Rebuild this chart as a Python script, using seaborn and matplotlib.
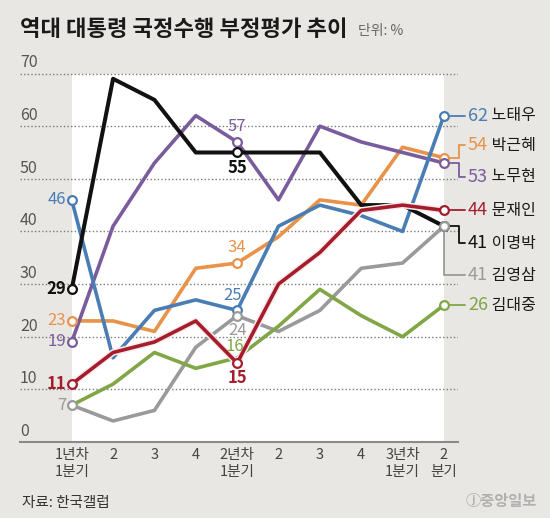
import matplotlib
matplotlib.use("Agg")
import matplotlib.pyplot as plt
import matplotlib.patheffects as pe
import seaborn as sns
import pandas as pd

# ---------------- data ----------------
quarters = ["1년차\n1분기", "2", "3", "4", "2년차\n1분기", "2", "3", "4", "3년차\n1분기", "2\n분기"]
presidents = ["노태우", "박근혜", "노무현", "문재인", "이명박", "김영삼", "김대중"]
roh_taewoo = [46, 16, 25, 27, 25, 41, 45, 43, 40, 62]
park_geunhye = [23, 23, 21, 33, 34, 39, 46, 45, 56, 54]
roh_moohyun = [19, 41, 53, 62, 57, 46, 60, 57, 55, 53]
moon_jaein = [11, 17, 19, 23, 15, 30, 36, 44, 45, 44]
lee_myungbak = [29, 69, 65, 55, 55, 55, 55, 45, 45, 41]
kim_youngsam = [7, 4, 6, 18, 24, 21, 25, 33, 34, 41]
kim_daejung = [7, 11, 17, 14, 16, 22, 29, 24, 20, 26]
y_ticks = [0, 10, 20, 30, 40, 50, 60, 70]

series = {
    "노태우": roh_taewoo, "박근혜": park_geunhye, "노무현": roh_moohyun,
    "문재인": moon_jaein, "이명박": lee_myungbak, "김영삼": kim_youngsam,
    "김대중": kim_daejung,
}
rows = []
for p in presidents:
    for i, v in enumerate(series[p]):
        rows.append({"pres": p, "pos": i, "val": v})
df = pd.DataFrame(rows)

# ---------------- style ----------------
colors = {"노태우": "#4a7db3", "박근혜": "#e8924a", "노무현": "#7a5c9c",
          "문재인": "#a51d2d", "이명박": "#111111", "김영삼": "#9a9a9a",
          "김대중": "#80a646"}
zorders = {"김영삼": 3, "김대중": 3.1, "박근혜": 3.2, "노무현": 3.3,
           "노태우": 3.4, "이명박": 3.5, "문재인": 3.6}
BG = "#e8e7e3"

sns.set_style("white")
plt.rcParams["font.family"] = ["Noto Sans CJK KR", "DejaVu Sans"]

fig = plt.figure(figsize=(5.5, 5.18), dpi=100, facecolor=BG)
ax = fig.add_axes([20 / 550, (518 - 442) / 518, 438 / 550, (442 - 63) / 518])
ax.set_facecolor(BG)

ax.set_xlim(-1.25, 9.34)
ax.set_ylim(0, 72)

# white plot band
ax.axvspan(0, len(quarters) - 1, ymin=0, ymax=70 / 72, color="white", zorder=0, lw=0)

# grid
ax.set_yticks(y_ticks)
ax.set_yticklabels([])
ax.tick_params(axis="y", length=0)
ax.yaxis.grid(True, linestyle=(0, (1, 1.6)), color="#7a7a7a", lw=1.0, zorder=0.5)
ax.set_axisbelow(True)
for s in ["top", "right", "left"]:
    ax.spines[s].set_visible(False)
ax.spines["bottom"].set_color("#8a8a8a")
ax.spines["bottom"].set_linewidth(1.5)
ax.spines["bottom"].set_zorder(2)

ax.set_xticks(range(len(quarters)))
ax.set_xticklabels(quarters, fontsize=10.5, color="#444444", linespacing=1.35)
ax.tick_params(axis="x", direction="in", length=8, width=1.2, color="#8a8a8a", pad=4)

for t in y_ticks:
    ax.text(-1.25, t + 0.4, str(t), ha="left", va="bottom", fontsize=11.5,
            color="#555555", zorder=1)

# lines
for p in presidents:
    sub = df[df["pres"] == p]
    lw = 2.9 if p == "이명박" else 2.6
    sns.lineplot(data=sub, x="pos", y="val", color=colors[p], lw=lw, ax=ax,
                 zorder=zorders[p], legend=False)
    line = ax.lines[-1]
    if p == "문재인":
        line.set_path_effects([pe.Stroke(linewidth=lw + 2.2, foreground="#fbecec"), pe.Normal()])
ax.set_xlabel("")
ax.set_ylabel("")

# markers
marker_idx = {"노태우": [0, 4, 9], "박근혜": [0, 4, 9], "노무현": [0, 4, 9],
              "문재인": [0, 4, 9], "이명박": [0, 4, 9], "김영삼": [0, 4, 9],
              "김대중": [9]}
for p in presidents:
    vals = series[p]
    idx = marker_idx[p]
    ax.plot(idx, [vals[i] for i in idx], ls="none", marker="o", ms=6.3,
            mfc="white", mec=colors[p], mew=1.6, zorder=5)

# left labels
left_labels = ["노태우", "이명박", "박근혜", "노무현", "문재인", "김영삼"]
for p in left_labels:
    bold = p in ("이명박", "문재인")
    ax.text(-0.14, series[p][0], str(series[p][0]), ha="right", va="center",
            fontsize=12, color=colors[p], fontweight="bold" if bold else "normal",
            zorder=6)

# labels at 2년차 1분기
mid = {"노무현": (0, 11), "박근혜": (0, 11), "노태우": (-3, 11), "김대중": (-2, 8),
       "이명박": (0, -11.5), "김영삼": (0, -11), "문재인": (0, -11)}
for p, (dx, dy) in mid.items():
    bold = p in ("이명박", "문재인")
    ax.annotate(str(series[p][4]), (4, series[p][4]), xytext=(dx, dy),
                textcoords="offset points", ha="center", va="center",
                fontsize=12, color=colors[p],
                fontweight="bold" if bold else "normal", zorder=6)

# right labels with connectors
label_y = {"노태우": 62.4, "박근혜": 56.4, "노무현": 50.4, "문재인": 44.2,
           "이명박": 37.8, "김영삼": 31.7, "김대중": 25.5}
x_end = 9.0
x_elbow = 9.36
x_line_end = 9.52
x_text = 9.58
for p in presidents:
    v = series[p][-1]
    ly = label_y[p]
    c = colors[p]
    if p in ("노태우", "문재인", "김대중"):
        xs, ys = [x_end, x_line_end], [v, v]
        ly = v
    elif p == "김영삼":
        xs, ys = [x_end, x_end, x_line_end], [v, ly, ly]
    else:
        xs, ys = [x_end, x_elbow, x_elbow, x_line_end], [v, v, ly, ly]
    ax.plot(xs, ys, color=c, lw=1.3, clip_on=False, zorder=4)
    t = ax.text(x_text, ly, str(v), ha="left", va="center", fontsize=13,
                color=c, clip_on=False, zorder=6)
    ax.annotate(" " + p, xy=(1, 0.5), xycoords=t, ha="left", va="center",
                fontsize=11.5, color="#1a1a1a", annotation_clip=False)

# title and notes
fig.text(20 / 550, 1 - 30 / 518, "역대 대통령 국정수행 부정평가 추이", ha="left",
         va="center", fontsize=16, fontweight="bold", color="#1a1a1a")
fig.text(358 / 550, 1 - 31 / 518, "단위: %", ha="left", va="center",
         fontsize=10, color="#666666")
fig.text(22 / 550, 1 - 503 / 518, "자료: 한국갤럽", ha="left", va="center",
         fontsize=10.5, color="#333333")
fig.text(537 / 550, 1 - 501 / 518, "ⓙ중앙일보", ha="right", va="center",
         fontsize=11, fontweight="bold", color="#b0b0b0")

fig.savefig("out.png", dpi=100, facecolor=BG)
